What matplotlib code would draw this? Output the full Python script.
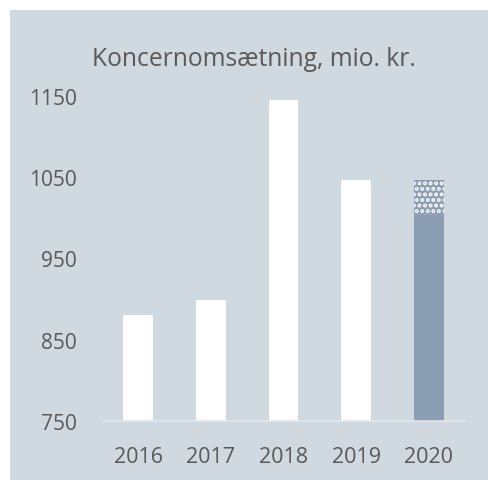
import matplotlib
matplotlib.use("Agg")
import matplotlib.pyplot as plt
from matplotlib.patches import Rectangle

# data
years = ["2016", "2017", "2018", "2019", "2020"]
values = [880, 899, 1145, 1046, 1003]
expected_2020 = 1046  # dotted part on top of 2020
yticks = [750, 850, 950, 1050, 1150]

bg = "#d0d8e0"
bar_white = "#ffffff"
bar_blue = "#8c9eb3"
txt = "#595959"

plt.rcParams["font.family"] = ["Open Sans", "DejaVu Sans"]
plt.rcParams["hatch.linewidth"] = 2.0

W, H = 488, 481
fig = plt.figure(figsize=(W / 100, H / 100), dpi=100)
fig.patch.set_facecolor("white")
# grey panel behind everything
fig.patches.append(Rectangle((10 / W, 0), 1 - 10 / W, 1 - 11 / H,
                             transform=fig.transFigure, facecolor=bg,
                             edgecolor="none", zorder=0))

ax = fig.add_axes([102 / W, 1 - 421.7 / H, 363 / W, 324.7 / H])
ax.set_facecolor("none")
ax.set_zorder(2)

x = list(range(len(years)))
bw = 0.41
base = yticks[0]
heights = [v - base for v in values]
colors = [bar_white] * 4 + [bar_blue]
ax.bar(x, heights, bottom=base, width=bw, color=colors, edgecolor="none", zorder=2)
# forecast part of 2020, dotted
ax.bar(x[-1], expected_2020 - values[-1], bottom=values[-1], width=bw,
       facecolor=bar_blue, edgecolor="white", hatch="...", linewidth=0, zorder=2)

ax.set_xlim(-0.5, len(years) - 0.5)
ax.set_ylim(yticks[0], yticks[-1])
ax.set_yticks(yticks)
ax.set_xticks(x)
ax.set_xticklabels(years)
ax.tick_params(axis="both", length=0, colors=txt)
ax.tick_params(axis="x", labelsize=15.5, pad=18)
ax.tick_params(axis="y", labelsize=15, pad=18)

for s in ["top", "right", "left"]:
    ax.spines[s].set_visible(False)
ax.spines["bottom"].set_color("#e2e7ec")
ax.spines["bottom"].set_linewidth(1.2)

fig.text(254 / W, 1 - 66 / H, "Koncernomsætning, mio. kr.", ha="center",
         va="baseline", fontsize=17.7, color=txt, zorder=3)

plt.savefig("out.png", dpi=100)
